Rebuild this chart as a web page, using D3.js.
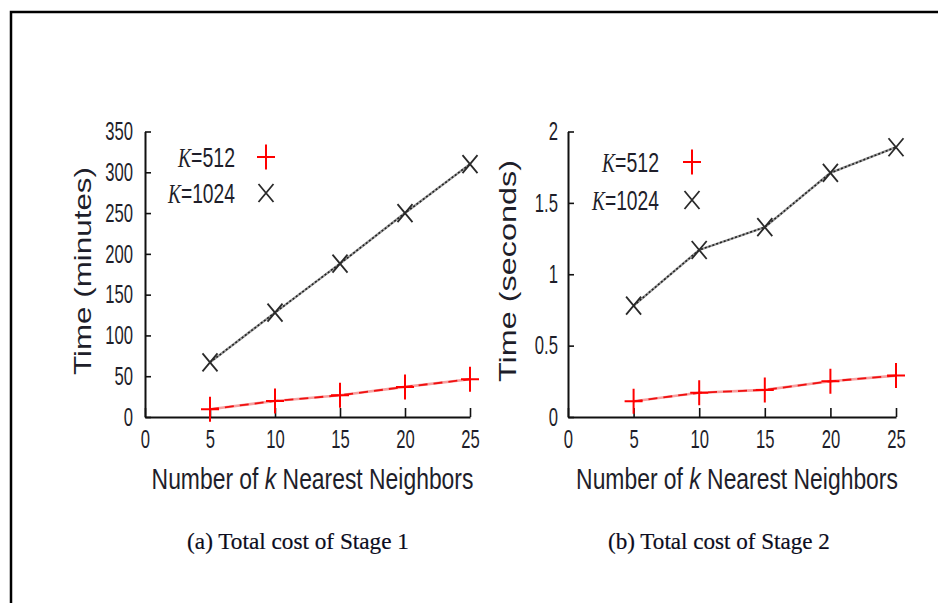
<!DOCTYPE html>
<html>
<head>
<meta charset="utf-8">
<script src="https://cdn.jsdelivr.net/npm/d3@7"></script>
<style>
  body { margin: 0; background: #fff; }
  svg { display: block; }
</style>
</head>
<body>
<svg id="chart" width="939" height="603"></svg>
<script>
// values
const kValues = [5, 10, 15, 20, 25];
const xTicks = [0, 5, 10, 15, 20, 25];

const stage1K512 = [9.5, 19.7, 26.6, 36.9, 46.3];
const stage1K1024 = [67, 128, 188, 250, 310];
const stage1Ticks = [0, 50, 100, 150, 200, 250, 300, 350];

const stage2K512 = [0.11, 0.17, 0.19, 0.25, 0.29];
const stage2K1024 = [0.78, 1.17, 1.33, 1.71, 1.89];
const stage2Ticks = [0, 0.5, 1, 1.5, 2];

const seriesNames = ["512", "1024"];

const svg = d3.select("#chart");
const sans = "'Liberation Sans', Arial, Helvetica, sans-serif";
const serif = "'Liberation Serif', 'Times New Roman', serif";

// frame around the figure (open at the bottom)
svg.append("path")
  .attr("d", "M11,610V12H938")
  .attr("fill", "none")
  .attr("stroke", "#000")
  .attr("stroke-width", 2.5);

function squeeze(sel, k) {
  sel.each(function() {
    const w = this.getComputedTextLength();
    d3.select(this).attr("textLength", w * k).attr("lengthAdjust", "spacingAndGlyphs");
  });
}

// fit a text (with tspans) to a given width by scaling it horizontally
function fitWidth(t, x, y, width) {
  const w = t.node().getComputedTextLength();
  t.attr("transform", `translate(${x},${y}) scale(${width / w},1)`);
}

function panel(p) {
  const x = d3.scaleLinear().domain([0, 25]).range([p.left, p.right]);
  const y = d3.scaleLinear().domain([0, p.yMax]).range([417, 131.5]);

  const g = svg.append("g");

  const xAxis = g.append("g")
    .attr("transform", "translate(0,417)")
    .call(d3.axisBottom(x).tickValues(xTicks).tickSizeInner(-9).tickSizeOuter(0).tickPadding(13));
  const yAxis = g.append("g")
    .attr("transform", `translate(${p.left},0)`)
    .call(d3.axisLeft(y).tickValues(p.ticks).tickFormat(d3.format("~g")).tickSizeInner(-6).tickSizeOuter(0).tickPadding(p.pad));

  [xAxis, yAxis].forEach(a => {
    a.select(".domain").attr("stroke", "#111").attr("stroke-width", 2);
    a.selectAll(".tick line").attr("stroke", "#111").attr("stroke-width", 1.6);
    a.selectAll("text")
      .attr("font-family", sans)
      .attr("font-size", 26)
      .attr("fill", "#1e1e2a");
    squeeze(a.selectAll("text"), 0.64);
  });

  // axis titles
  g.append("text")
    .attr("transform", `translate(${p.titleX},${p.titleY}) rotate(-90)`)
    .attr("text-anchor", "middle")
    .attr("font-family", sans)
    .attr("font-size", 24)
    .attr("fill", "#1e1e2a")
    .attr("textLength", p.titleLen)
    .attr("lengthAdjust", "spacingAndGlyphs")
    .text(p.title);

  const xt = g.append("text")
    .attr("text-anchor", "middle")
    .attr("font-family", sans)
    .attr("font-size", 29)
    .attr("fill", "#1e1e2a");
  xt.append("tspan").text("Number of ");
  xt.append("tspan").attr("font-style", "italic").text("k");
  xt.append("tspan").text(" Nearest Neighbors");
  fitWidth(xt, (p.left + p.right) / 2 + 5, 489, 322);

  const cap = g.append("text")
    .attr("text-anchor", "middle")
    .attr("font-family", serif)
    .attr("font-size", 24)
    .attr("fill", "#0c0c20")
    .attr("stroke", "#0c0c20")
    .attr("stroke-width", 0.2)
    .text(p.caption);
  fitWidth(cap, p.capX, 549, 222);

  const line = d3.line().x((d, i) => x(kValues[i])).y(d => y(d));

  // K=1024 series (black, dotted look)
  g.append("path").datum(p.big)
    .attr("d", line).attr("fill", "none")
    .attr("stroke", "#9a9a9a").attr("stroke-width", 2.4);
  g.append("path").datum(p.big)
    .attr("d", line).attr("fill", "none")
    .attr("stroke", "#222").attr("stroke-width", 1.6).attr("stroke-dasharray", "2,2");

  // K=512 series (red, dashed look)
  g.append("path").datum(p.small)
    .attr("d", line).attr("fill", "none")
    .attr("stroke", "#f6a0a0").attr("stroke-width", 2.6);
  g.append("path").datum(p.small)
    .attr("d", line).attr("fill", "none")
    .attr("stroke", "#f01010").attr("stroke-width", 1.8).attr("stroke-dasharray", "9,6");

  const cross = (sel, cx, cy) => sel.append("path")
    .attr("d", `M${cx - 7.5},${cy - 9}L${cx + 7.5},${cy + 9}M${cx - 7.5},${cy + 9}L${cx + 7.5},${cy - 9}`)
    .attr("stroke", "#2a2a2a").attr("stroke-width", 1.8).attr("fill", "none");
  const plus = (sel, cx, cy) => sel.append("path")
    .attr("d", `M${cx - 9},${cy}H${cx + 9}M${cx},${cy - 12.5}V${cy + 12.5}`)
    .attr("stroke", "#ff0000").attr("stroke-width", 2).attr("fill", "none");

  p.big.forEach((v, i) => cross(g, x(kValues[i]), y(v)));
  p.small.forEach((v, i) => plus(g, x(kValues[i]), y(v)));

  // legend
  seriesNames.forEach((name, i) => {
    const ly = p.legY[i];
    const t = g.append("text")
      .attr("text-anchor", "end")
      .attr("font-family", sans)
      .attr("font-size", 27)
      .attr("fill", "#1e1e2a");
    t.append("tspan").attr("font-family", serif).attr("font-style", "italic").text("K");
    t.append("tspan").text("=" + name);
    fitWidth(t, p.legTextX, ly + 10, i === 0 ? 57 : 67);
    if (i === 0) plus(g, p.legMarkX, ly);
    else cross(g, p.legMarkX, ly);
  });
}

panel({
  left: 145, right: 470, yMax: 350, ticks: stage1Ticks, pad: 12,
  small: stage1K512, big: stage1K1024,
  title: "Time (minutes)", titleX: 91, titleY: 271, titleLen: 208,
  caption: "(a) Total cost of Stage 1", capX: 298,
  legY: [157, 193], legTextX: 235, legMarkX: 266
});

panel({
  left: 568, right: 896, yMax: 2, ticks: stage2Ticks, pad: 10,
  small: stage2K512, big: stage2K1024,
  title: "Time (seconds)", titleX: 516, titleY: 271, titleLen: 222,
  caption: "(b) Total cost of Stage 2", capX: 719,
  legY: [162, 200], legTextX: 659, legMarkX: 692
});
</script>
</body>
</html>
